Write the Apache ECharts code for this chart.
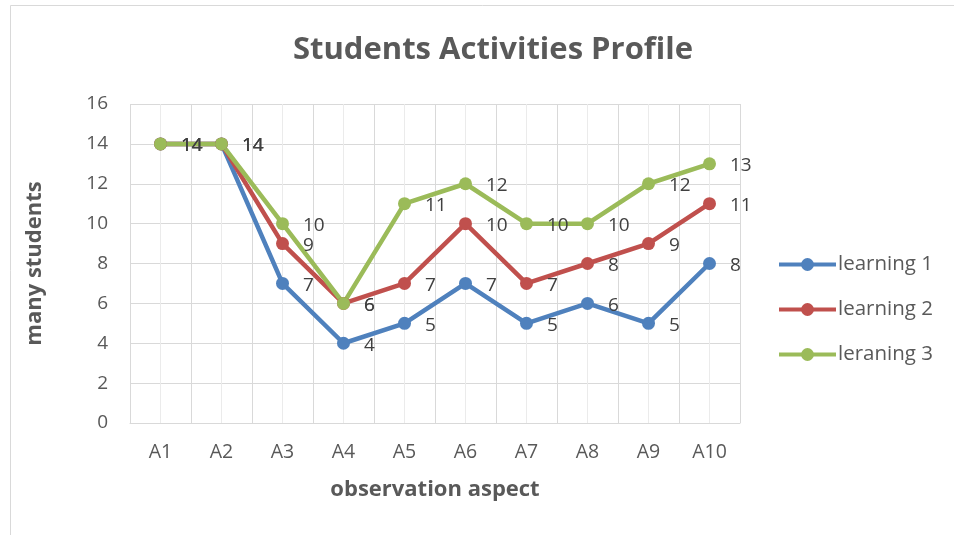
<!DOCTYPE html>
<html>
<head>
<meta charset="utf-8">
<script src="https://cdn.jsdelivr.net/npm/echarts@6/dist/echarts.min.js"></script>
<style>
html,body{margin:0;padding:0;background:#fff;}
#c{width:954px;height:535px;}
</style>
</head>
<body>
<div id="c"></div>
<script>
var categories = ['A1','A2','A3','A4','A5','A6','A7','A8','A9','A10'];
var learning1 = [14, 14, 7, 4, 5, 7, 5, 6, 5, 8];
var learning2 = [14, 14, 9, 6, 7, 10, 7, 8, 9, 11];
var learning3 = [14, 14, 10, 6, 11, 12, 10, 10, 12, 13];
var seriesNames = ['learning 1', 'learning 2', 'leraning 3'];
var yTicks = { min: 0, max: 16, interval: 2 };

var FONT = '"Open Sans"';
var colors = ['#4F81BD', '#C0504D', '#9BBB59'];

function mkSeries(name, data, color) {
  return {
    name: name,
    type: 'line',
    data: data,
    xAxisIndex: 0,
    yAxisIndex: 0,
    symbol: 'circle',
    symbolSize: 13,
    lineStyle: { width: 4.5, color: color },
    itemStyle: { color: color },
    label: {
      show: true,
      position: 'right',
      distance: 14,
      offset: [0, 2],
      fontFamily: FONT,
      fontSize: 19,
      color: '#404040'
    },
    emphasis: { disabled: true },
    animation: false
  };
}

var chart = echarts.init(document.getElementById('c'), null, { renderer: 'canvas' });
chart.setOption({
  animation: false,
  textStyle: { fontFamily: FONT },
  title: {
    text: 'Students Activities Profile',
    left: 488,
    top: 30,
    textAlign: 'center',
    textStyle: { fontFamily: FONT, fontSize: 31, fontWeight: 'bold', color: '#595959' }
  },
  graphic: [{
    type: 'rect',
    shape: { x: 10.5, y: 5.5, width: 960, height: 540 },
    style: { fill: 'none', stroke: '#d9d9d9', lineWidth: 1 },
    silent: true,
    z: -10
  }],
  legend: {
    orient: 'vertical',
    left: 772,
    top: 249,
    itemGap: 24,
    itemWidth: 57,
    itemHeight: 16,
    lineStyle: { width: 4 },
    data: seriesNames,
    textStyle: { fontFamily: FONT, fontSize: 20.5, color: '#595959', padding: [0, 0, 0, -3] }
  },
  grid: { left: 130, right: 214, top: 104, bottom: 112, containLabel: false },
  xAxis: [{
    type: 'category',
    data: categories,
    boundaryGap: true,
    name: 'observation aspect',
    nameLocation: 'middle',
    nameGap: 56,
    nameTextStyle: { fontFamily: FONT, fontSize: 22, fontWeight: 'bold', color: '#595959' },
    axisLine: { show: true, lineStyle: { color: '#d9d9d9', width: 1 } },
    axisTick: { show: false },
    axisLabel: { fontFamily: FONT, fontSize: 19.5, color: '#595959', margin: 19 },
    splitLine: { show: true, lineStyle: { color: '#d9d9d9', width: 1 } },
    z: 1
  }, {
    type: 'value',
    min: 0,
    max: 10,
    interval: 0.5,
    show: true,
    position: 'top',
    axisLine: { show: false },
    axisTick: { show: false },
    axisLabel: { show: false },
    splitLine: { show: true, lineStyle: { color: '#ebebeb', width: 1 } },
    z: 0
  }],
  yAxis: [{
    type: 'value',
    min: yTicks.min,
    max: yTicks.max,
    interval: yTicks.interval,
    name: 'many students',
    nameLocation: 'middle',
    nameGap: 84,
    nameTextStyle: { fontFamily: FONT, fontSize: 22, fontWeight: 'bold', color: '#595959' },
    axisLine: { show: false },
    axisTick: { show: false },
    axisLabel: { fontFamily: FONT, fontSize: 19, color: '#595959', margin: 22 },
    splitLine: { show: true, lineStyle: { color: '#d9d9d9', width: 1 } }
  }],
  series: [
    mkSeries(seriesNames[0], learning1, colors[0]),
    mkSeries(seriesNames[1], learning2, colors[1]),
    mkSeries(seriesNames[2], learning3, colors[2])
  ]
});
</script>
</body>
</html>
